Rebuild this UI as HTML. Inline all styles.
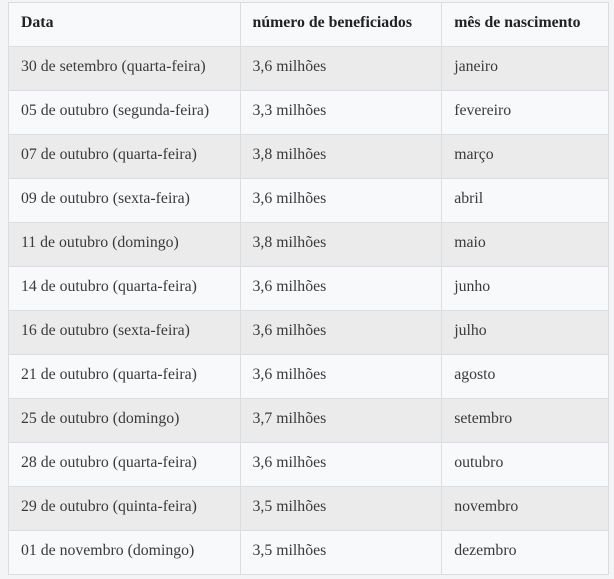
<!DOCTYPE html>
<html><head><meta charset="utf-8"><style>
html,body{margin:0;padding:0;background:#f3f4f6;width:614px;height:579px;overflow:hidden}
table{position:absolute;left:8px;top:2px;border-collapse:collapse;width:601px;font-family:"Liberation Serif",serif;font-size:15.8px;color:#3a3a3a}
td,th{height:44px;padding:0 0 3px 12px;border:1px solid #dcdde0;text-align:left;vertical-align:middle;box-sizing:border-box}
th{font-weight:bold;color:#222;background:#f8f9fa}
tr:nth-child(even) td{background:#ebebec}
tr:nth-child(odd) td{background:#f8f9fa}
col.a{width:232px}col.b{width:202px}col.c{width:167px}
</style></head><body>
<table>
<colgroup><col class="a"><col class="b"><col class="c"></colgroup>
<tr><th>Data</th><th>número de beneficiados</th><th>mês de nascimento</th></tr>
<tr><td>30 de setembro (quarta-feira)</td><td>3,6 milhões</td><td>janeiro</td></tr>
<tr><td>05 de outubro (segunda-feira)</td><td>3,3 milhões</td><td>fevereiro</td></tr>
<tr><td>07 de outubro (quarta-feira)</td><td>3,8 milhões</td><td>março</td></tr>
<tr><td>09 de outubro (sexta-feira)</td><td>3,6 milhões</td><td>abril</td></tr>
<tr><td>11 de outubro (domingo)</td><td>3,8 milhões</td><td>maio</td></tr>
<tr><td>14 de outubro (quarta-feira)</td><td>3,6 milhões</td><td>junho</td></tr>
<tr><td>16 de outubro (sexta-feira)</td><td>3,6 milhões</td><td>julho</td></tr>
<tr><td>21 de outubro (quarta-feira)</td><td>3,6 milhões</td><td>agosto</td></tr>
<tr><td>25 de outubro (domingo)</td><td>3,7 milhões</td><td>setembro</td></tr>
<tr><td>28 de outubro (quarta-feira)</td><td>3,6 milhões</td><td>outubro</td></tr>
<tr><td>29 de outubro (quinta-feira)</td><td>3,5 milhões</td><td>novembro</td></tr>
<tr><td>01 de novembro (domingo)</td><td>3,5 milhões</td><td>dezembro</td></tr>
</table>
</body></html>
